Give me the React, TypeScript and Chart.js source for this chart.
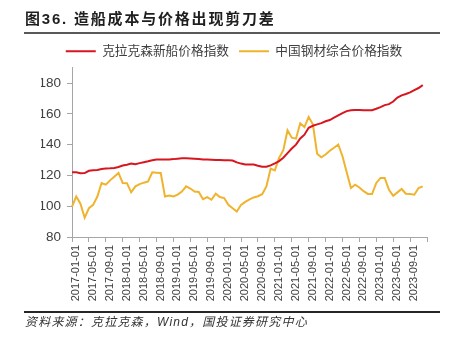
import React, { useEffect, useRef } from "react";
import { Chart, registerables } from "chart.js";

Chart.register(...registerables);

const START_YEAR = 2017;
const MONTH_COUNT = 85; // 2017-01 … 2024-01 (axis end)
const MONTHS: string[] = [];
for (let i = 0; i < MONTH_COUNT; i++) {
  const y = START_YEAR + Math.floor(i / 12);
  const m = (i % 12) + 1;
  MONTHS.push(`${y}-${m < 10 ? "0" + m : m}-01`);
}

const SERIES_NAMES = ["克拉克森新船价格指数", "中国钢材综合价格指数"];

const CLARKSON = [
  122, 122, 121.4, 121.5, 123, 123.3, 123.6, 124.2, 124.5, 124.6,
  124.8, 125.5, 126.4, 127, 127.7, 127.3, 128, 128.6, 129.2, 129.9,
  130.3, 130.3, 130.3, 130.4, 130.6, 130.9, 131.2, 131.1, 131, 130.8,
  130.6, 130.4, 130.3, 130.2, 130.1, 130, 129.9, 129.8, 129.7, 128.5,
  127.7, 127.1, 127.1, 127.1, 126.3, 125.6, 125.6, 126.5, 127.8, 129.3,
  131.5, 134.5, 137.5, 140, 144, 146.5, 151, 152.3, 153.2, 154,
  155.2, 156, 157.5, 159, 160.5, 161.8, 162.4, 162.5, 162.5, 162.4,
  162.3, 162.4, 163.3, 164.4, 165.7, 166.3, 168, 170.6, 172, 172.9,
  174, 175.5, 176.8, 178.7,
];

const CSPI = [
  99.8, 106.3, 101.6, 92.6, 98.7, 100.9, 106.3, 115.1, 114, 116.8,
  119.2, 121.6, 115.1, 115, 109, 112.9, 114.4, 115.3, 116.1, 122,
  121.8, 121.6, 106.3, 107, 106.3, 107.5, 109.5, 112.9, 111.5, 109.5,
  109.2, 104.6, 105.9, 104.2, 108.1, 106, 105.3, 100.9, 98.7, 96.5,
  100.9, 102.8, 104.5, 105.7, 106.5, 107.8, 112.9, 124.4, 123.3, 131.4,
  136.4, 149.3, 144.5, 143.9, 153.9, 151.4, 158, 153.2, 134.1, 131.8,
  133.6, 136, 138, 140.1, 132.5, 122, 111.8, 114, 112.2, 109.8,
  108, 107.9, 115.1, 118.4, 118.4, 110.7, 106.8, 109, 111.2, 108.1,
  108, 107.5, 111.8, 112.9,
];

const Y_MIN = 80;
const Y_MAX = 190;
const Y_STEP = 20;
const Y_LAST_TICK = 180;
const X_TICK_EVERY = 4;

const RED = "#D7161F";
const YELLOW = "#F0B32E";
const AXIS = "#A6A6A6";
const TEXT = "#404040";

const FONT = "'Liberation Sans', 'Noto Sans CJK SC', sans-serif";

export default function App() {
  const ref = useRef<HTMLCanvasElement | null>(null);

  useEffect(() => {
    if (!ref.current) return;
    Chart.defaults.font.family = FONT;
    const chart = new Chart(ref.current, {
      type: "line",
      data: {
        labels: MONTHS,
        datasets: [
          {
            label: SERIES_NAMES[0],
            data: CLARKSON,
            borderColor: RED,
            backgroundColor: RED,
            borderWidth: 2,
            pointRadius: 0,
            tension: 0,
          },
          {
            label: SERIES_NAMES[1],
            data: CSPI,
            borderColor: YELLOW,
            backgroundColor: YELLOW,
            borderWidth: 2,
            pointRadius: 0,
            tension: 0,
          },
        ],
      },
      options: {
        animation: false,
        responsive: false,
        maintainAspectRatio: false,
        events: [],
        layout: { padding: { left: 41, right: 30, top: 35, bottom: 40 } },
        plugins: {
          tooltip: { enabled: false },
          legend: {
            position: "top",
            labels: {
              boxWidth: 30,
              boxHeight: 2,
              padding: 10,
              color: TEXT,
              font: { size: 12.7, family: FONT },
              generateLabels: (c: any) =>
                (Chart.defaults.plugins.legend.labels as any)
                  .generateLabels(c)
                  .map((l: any) => ({ ...l, lineWidth: 0 })),
            },
          },
        },
        scales: {
          x: {
            type: "category",
            offset: false,
            afterBuildTicks: (s: any) => {
              s.ticks = s.ticks.filter((t: any) => t.value % X_TICK_EVERY === 0);
            },
            afterFit: (s: any) => {
              s.height = 66;
            },
            grid: {
              drawOnChartArea: false,
              drawTicks: true,
              tickLength: 5,
              color: AXIS,
            },
            border: { color: AXIS, width: 1 },
            ticks: {
              autoSkip: false,
              minRotation: 90,
              maxRotation: 90,
              padding: 3,
              labelOffset: 4,
              color: TEXT,
              font: { size: 11, family: FONT },
              callback: (v: any) =>
                v >= CLARKSON.length ? "" : MONTHS[v as number],
            },
          },
          y: {
            min: Y_MIN,
            max: Y_MAX,
            afterBuildTicks: (s: any) => {
              s.ticks = s.ticks.filter((t: any) => t.value <= Y_LAST_TICK);
            },
            afterFit: (s: any) => {
              s.width = 31;
            },
            grid: {
              drawOnChartArea: false,
              drawTicks: true,
              tickLength: 5,
              color: AXIS,
            },
            border: { color: AXIS, width: 1 },
            ticks: {
              stepSize: Y_STEP,
              padding: 6,
              color: TEXT,
              font: { size: 13.5, family: FONT },
            },
          },
        },
      },
    } as any);
    return () => chart.destroy();
  }, []);

  return (
    <div
      style={{
        position: "absolute",
        left: 0,
        top: 0,
        width: 457,
        height: 343,
        background: "#fff",
        overflow: "hidden",
      }}
    >
      <canvas
        ref={ref}
        width={457}
        height={343}
        style={{ position: "absolute", left: 0, top: 0, width: 457, height: 343 }}
      />
      <div
        style={{
          position: "absolute",
          left: 25,
          top: 9,
          fontFamily: FONT,
          fontSize: 15,
          fontWeight: 700,
          letterSpacing: "1.8px",
          color: "#1f1f1f",
          whiteSpace: "nowrap",
          lineHeight: "20px",
        }}
      >
        图36. 造船成本与价格出现剪刀差
      </div>
      <div
        style={{
          position: "absolute",
          left: 24,
          top: 32,
          width: 416,
          height: 2,
          background: "#595959",
        }}
      />
      <div
        style={{
          position: "absolute",
          left: 24,
          top: 311,
          width: 416,
          height: 1.5,
          background: "#262626",
        }}
      />
      <div
        style={{
          position: "absolute",
          left: 25,
          top: 314,
          fontFamily: FONT,
          fontSize: 12,
          fontStyle: "italic",
          letterSpacing: "1.2px",
          color: "#333",
          whiteSpace: "nowrap",
          lineHeight: "16px",
        }}
      >
        资料来源：克拉克森，Wind，国投证券研究中心
      </div>
    </div>
  );
}
